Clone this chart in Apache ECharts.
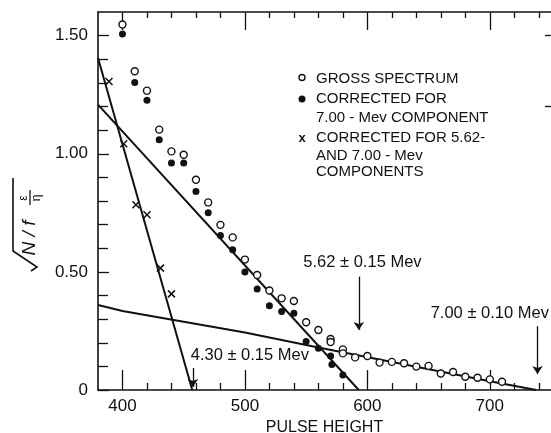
<!DOCTYPE html>
<html>
<head>
<meta charset="utf-8">
<script src="https://cdn.jsdelivr.net/npm/echarts@6/dist/echarts.min.js"></script>
<style>
 html,body{margin:0;padding:0;background:#fff;}
 #main{width:551px;height:433px;}
</style>
</head>
<body>
<div id="main"></div>
<script>
 var FONT = '"Liberation Sans", Arial, sans-serif';

 // gross spectrum (open circles)
 var grossX = [400,410,420,430,440,450,460,470,480,490,500,510,520,530,540,550,560,570,570,580,580,590,600,610,620,630,640,650,660,670,680,690,700,710];
 var grossY = [1.547,1.349,1.267,1.102,1.010,0.996,0.890,0.794,0.699,0.646,0.552,0.487,0.421,0.388,0.377,0.287,0.254,0.216,0.203,0.172,0.155,0.138,0.144,0.116,0.119,0.113,0.099,0.102,0.070,0.076,0.056,0.052,0.045,0.035];
 // corrected for 7.00 Mev (filled circles)
 var corrX = [400,410,420,430,440,450,460,470,480,490,500,510,520,530,540,550,560,570,571,580];
 var corrY = [1.507,1.302,1.226,1.059,0.961,0.961,0.840,0.750,0.654,0.594,0.500,0.427,0.357,0.332,0.325,0.205,0.177,0.144,0.108,0.064];
 // corrected for 5.62 and 7.00 Mev (x)
 var bothX = [389,401,411,420,431,440];
 var bothY = [1.306,1.042,0.784,0.742,0.516,0.407];

 // fitted lines
 var fit430X = [380,457];
 var fit430Y = [1.405,0];
 var fit562X = [380,593];
 var fit562Y = [1.208,0];
 var fit700X = [380,400,500,560,700,738];
 var fit700Y = [0.360,0.334,0.243,0.180,0.037,0];

 // arrows and their notes
 var arrowX = [457.5,593,739];
 var arrowTop = [0.093,0.48,0.27];
 var arrowTip = [0.013,0.254,0.068];
 var noteText = ['4.30 ± 0.15 Mev','5.62 ± 0.15 Mev','7.00 ± 0.10 Mev'];
 var noteX = [504,596,700];
 var noteY = [0.148,0.538,0.322];

 // ticks
 var xMajorTicks = [400,500,600,700];
 var xMinorTicks = [420,440,460,480,520,540,560,580,620,640,660,680,720,740];
 var yMajorTicks = [0,0.5,1.0,1.5];
 var yMinorTicks = [0.1,0.2,0.3,0.4,0.6,0.7,0.8,0.9,1.1,1.2,1.3,1.4];
 var yRightTicks = [1.2,1.5];

 function pairs(xs, ys){
   var out = [];
   for (var i = 0; i < xs.length; i++) out.push([xs[i], ys[i]]);
   return out;
 }

 var ink = '#111';

 function xAx(pos, ticks, len, showLine, showLabel){
   return {
     type:'value', position:pos, offset:0, min:380, max:750,
     axisLine:{show:showLine, onZero:false, lineStyle:{color:ink, width:1.6}},
     axisTick:{show:true, inside:true, length:len, customValues:ticks, lineStyle:{color:ink, width:1.3}},
     axisLabel:{show:showLabel, customValues:ticks, color:ink, fontSize:17, fontFamily:FONT, margin:8},
     splitLine:{show:false}
   };
 }
 function yAx(pos, ticks, len, showLine, showLabel){
   return {
     type:'value', position:pos, offset:0, min:0, max:1.6,
     axisLine:{show:showLine, onZero:false, lineStyle:{color:ink, width:1.6}},
     axisTick:{show:true, inside:true, length:len, customValues:ticks, lineStyle:{color:ink, width:1.3}},
     axisLabel:{show:showLabel, customValues:ticks, color:ink, fontSize:17, fontFamily:FONT, margin:10,
       formatter:function(v){ return v === 0 ? '0' : v.toFixed(2); }},
     splitLine:{show:false}
   };
 }

 var xBottom = xAx('bottom', xMajorTicks, 20, true, true);
 xBottom.name = 'PULSE HEIGHT';
 xBottom.nameLocation = 'middle';
 xBottom.nameGap = 27;
 xBottom.nameTextStyle = {color:ink, fontSize:16, fontFamily:FONT};

 var myChart = echarts.init(document.getElementById('main'), null, {renderer:'canvas'});

 var lineStyle = {color:ink, width:2};

 myChart.setOption({
   animation:false,
   backgroundColor:'#fff',
   grid:{left:98, right:0, top:12, bottom:43, outerBoundsMode:'none'},
   xAxis:[
     xBottom,
     xAx('bottom', xMinorTicks, 7, false, false),
     xAx('top', xMajorTicks, 18, true, false),
     xAx('top', xMinorTicks, 6, false, false)
   ],
   yAxis:[
     yAx('left', yMajorTicks, 11, true, true),
     yAx('left', yMinorTicks, 10, false, false),
     yAx('right', yRightTicks, 6, false, false)
   ],
   series:[
     {
       name:'4.30', type:'line', symbol:'none', data:pairs(fit430X, fit430Y), lineStyle:lineStyle, silent:true,
       markLine:{
         silent:true, symbol:['none','arrow'], symbolSize:8,
         label:{show:false},
         lineStyle:{color:ink, width:1.3, type:'solid'},
         data:arrowX.map(function(x, i){ return [{coord:[x, arrowTop[i]]},{coord:[x, arrowTip[i]]}]; })
       }
     },
     {name:'5.62', type:'line', symbol:'none', data:pairs(fit562X, fit562Y), lineStyle:lineStyle, silent:true},
     {name:'7.00', type:'line', symbol:'none', data:pairs(fit700X, fit700Y), lineStyle:lineStyle, silent:true},
     {
       name:'GROSS SPECTRUM', type:'scatter', symbol:'circle', symbolSize:7, data:pairs(grossX, grossY),
       itemStyle:{color:'#fff', borderColor:ink, borderWidth:1.4, opacity:1}, z:5
     },
     {
       name:'CORRECTED FOR 7.00-Mev COMPONENT', type:'scatter', symbol:'circle', symbolSize:7, data:pairs(corrX, corrY),
       itemStyle:{color:ink, opacity:1}, z:5
     },
     {
       name:'CORRECTED FOR 5.62- AND 7.00-Mev COMPONENTS', type:'scatter', symbol:'path://M0,0L10,10M10,0L0,10', symbolSize:7,
       data:pairs(bothX, bothY),
       itemStyle:{color:ink, borderColor:ink, borderWidth:1.5, opacity:1}, z:5
     },
     {
       name:'notes', type:'scatter', symbolSize:0, silent:true,
       itemStyle:{color:'#fff', opacity:1},
       data:noteX.map(function(x, i){ return {value:[x, noteY[i]], label:{formatter:noteText[i]}}; }),
       label:{show:true, position:[0, 0], align:'center', verticalAlign:'middle', color:ink, fontSize:16.5, fontFamily:FONT}
     }
   ],
   graphic:[
     // legend
     {type:'circle', shape:{cx:302, cy:77.5, r:3}, style:{fill:'#fff', stroke:ink, lineWidth:1.4}},
     {type:'circle', shape:{cx:302, cy:99, r:3.5}, style:{fill:ink}},
     {type:'text', x:302, y:138, style:{text:'x', font:'bold 13px ' + FONT, fill:ink, align:'center', verticalAlign:'middle', textAlign:'center', textVerticalAlign:'middle'}},
     {type:'text', x:316, y:78.5, style:{text:'GROSS SPECTRUM', font:'15px ' + FONT, fill:ink, verticalAlign:'middle', textVerticalAlign:'middle'}},
     {type:'text', x:316, y:98.5, style:{text:'CORRECTED FOR', font:'15px ' + FONT, fill:ink, verticalAlign:'middle', textVerticalAlign:'middle'}},
     {type:'text', x:316, y:118, style:{text:'7.00 - Mev COMPONENT', font:'15px ' + FONT, fill:ink, verticalAlign:'middle', textVerticalAlign:'middle'}},
     {type:'text', x:316, y:138, style:{text:'CORRECTED FOR 5.62-', font:'15px ' + FONT, fill:ink, verticalAlign:'middle', textVerticalAlign:'middle'}},
     {type:'text', x:316, y:155.5, style:{text:'AND 7.00 - Mev', font:'15px ' + FONT, fill:ink, verticalAlign:'middle', textVerticalAlign:'middle'}},
     {type:'text', x:316, y:171.5, style:{text:'COMPONENTS', font:'15px ' + FONT, fill:ink, verticalAlign:'middle', textVerticalAlign:'middle'}},
     // y axis title: sqrt(N/f * eps/eta), rotated
     {
       type:'group', x:30, y:220, rotation:Math.PI / 2,
       children:[
         {type:'polyline', shape:{points:[[-51,1],[-47,7],[-31,-17],[42,-17]]}, style:{stroke:ink, lineWidth:1.6, fill:null}},
         {type:'text', x:-18, y:0, style:{text:'N / f', font:'italic 19px ' + FONT, fill:ink, align:'center', verticalAlign:'middle', textAlign:'center', textVerticalAlign:'middle'}},
         {type:'text', x:22, y:-6, style:{text:'ε', font:'12px ' + FONT, fill:ink, align:'center', verticalAlign:'middle', textAlign:'center', textVerticalAlign:'middle'}},
         {type:'line', shape:{x1:15, y1:0, x2:30, y2:0}, style:{stroke:ink, lineWidth:1.3}},
         {type:'text', x:22, y:7, style:{text:'η', font:'12px ' + FONT, fill:ink, align:'center', verticalAlign:'middle', textAlign:'center', textVerticalAlign:'middle'}}
       ]
     }
   ]
 });
</script>
</body>
</html>
